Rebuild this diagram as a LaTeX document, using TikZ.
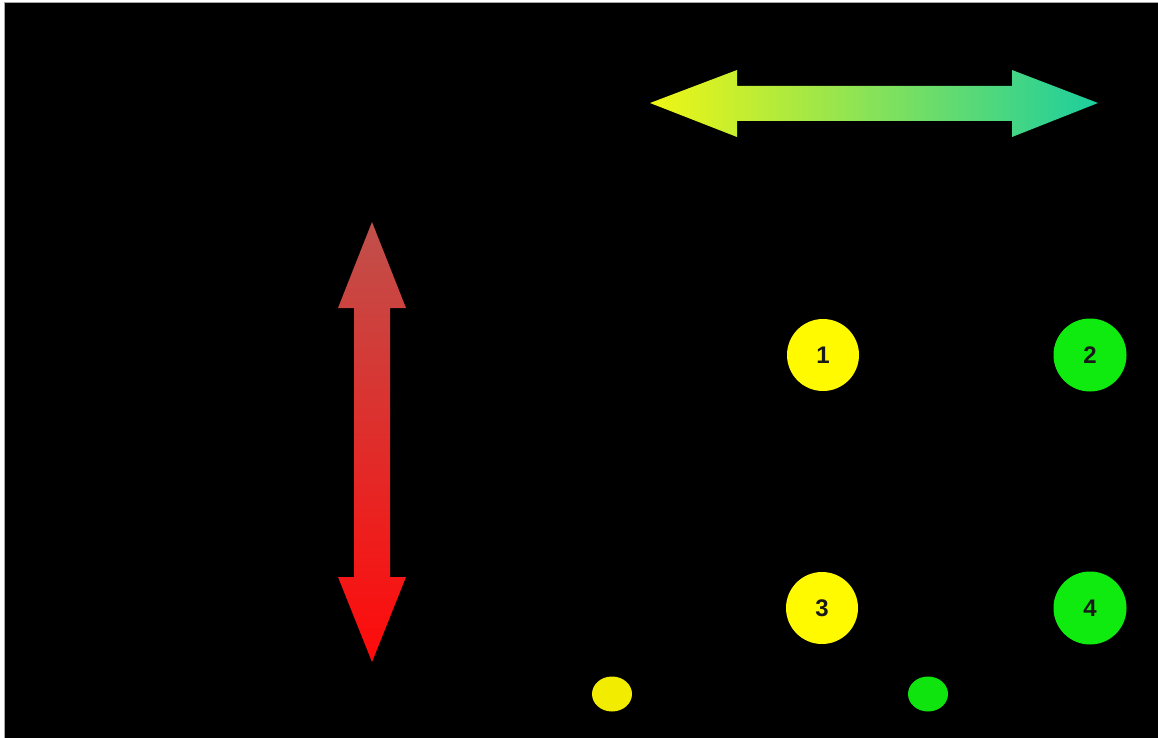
\documentclass[tikz,border=0pt]{standalone}
\usepackage{fontspec}
\setmainfont{Liberation Sans}
\usetikzlibrary{shapes.geometric}
\begin{document}
\begin{tikzpicture}[x=1pt,y=-1pt,
  yel/.style={circle,fill=cYel,minimum size=72pt,inner sep=0pt,font=\fontsize{24}{24}\selectfont\bfseries,text=black!90},
  grn/.style={circle,fill=cGrn,minimum size=73pt,inner sep=0pt,font=\fontsize{24}{24}\selectfont\bfseries,text=black!90},
  dot/.style={ellipse,minimum width=40pt,minimum height=35pt,inner sep=0pt}]
\definecolor{cYel}{RGB}{255,250,0}
\definecolor{cGrn}{RGB}{15,235,15}
\definecolor{hL}{RGB}{240,246,20}
\definecolor{hM}{RGB}{150,232,62}
\definecolor{hR}{RGB}{28,206,158}
\definecolor{vT}{RGB}{192,80,75}
\definecolor{vB}{RGB}{255,10,10}
\useasboundingbox (0,0) rectangle (1158,738);
\fill[white] (0,0) rectangle (1158,738);
\filldraw[fill=black,draw=gray!70,line width=1pt] (4.5,2.5) rectangle (1162,742);
% horizontal double arrow
\shade[left color=hL,middle color=hM,right color=hR]
  (650,103) -- (737,70) -- (737,86) -- (1012,86) -- (1012,70) -- (1098,103)
  -- (1012,137) -- (1012,121) -- (737,121) -- (737,137) -- cycle;
% vertical double arrow
\shade[top color=vT,bottom color=vB]
  (372,222) -- (406,308) -- (390,308) -- (390,577) -- (406,577) -- (372,662)
  -- (338,577) -- (354,577) -- (354,308) -- (338,308) -- cycle;
% circles
\node[yel] (n1) at (823,355) {1};
\node[grn] (n2) at (1090,355) {2};
\node[yel] (n3) at (822,608) {3};
\node[grn] (n4) at (1090,608) {4};
% small ellipses
\node[dot,fill=cYel!95!black] (e1) at (612,694) {};
\node[dot,fill=cGrn!97!black] (e2) at (928,694) {};
\end{tikzpicture}
\end{document}
